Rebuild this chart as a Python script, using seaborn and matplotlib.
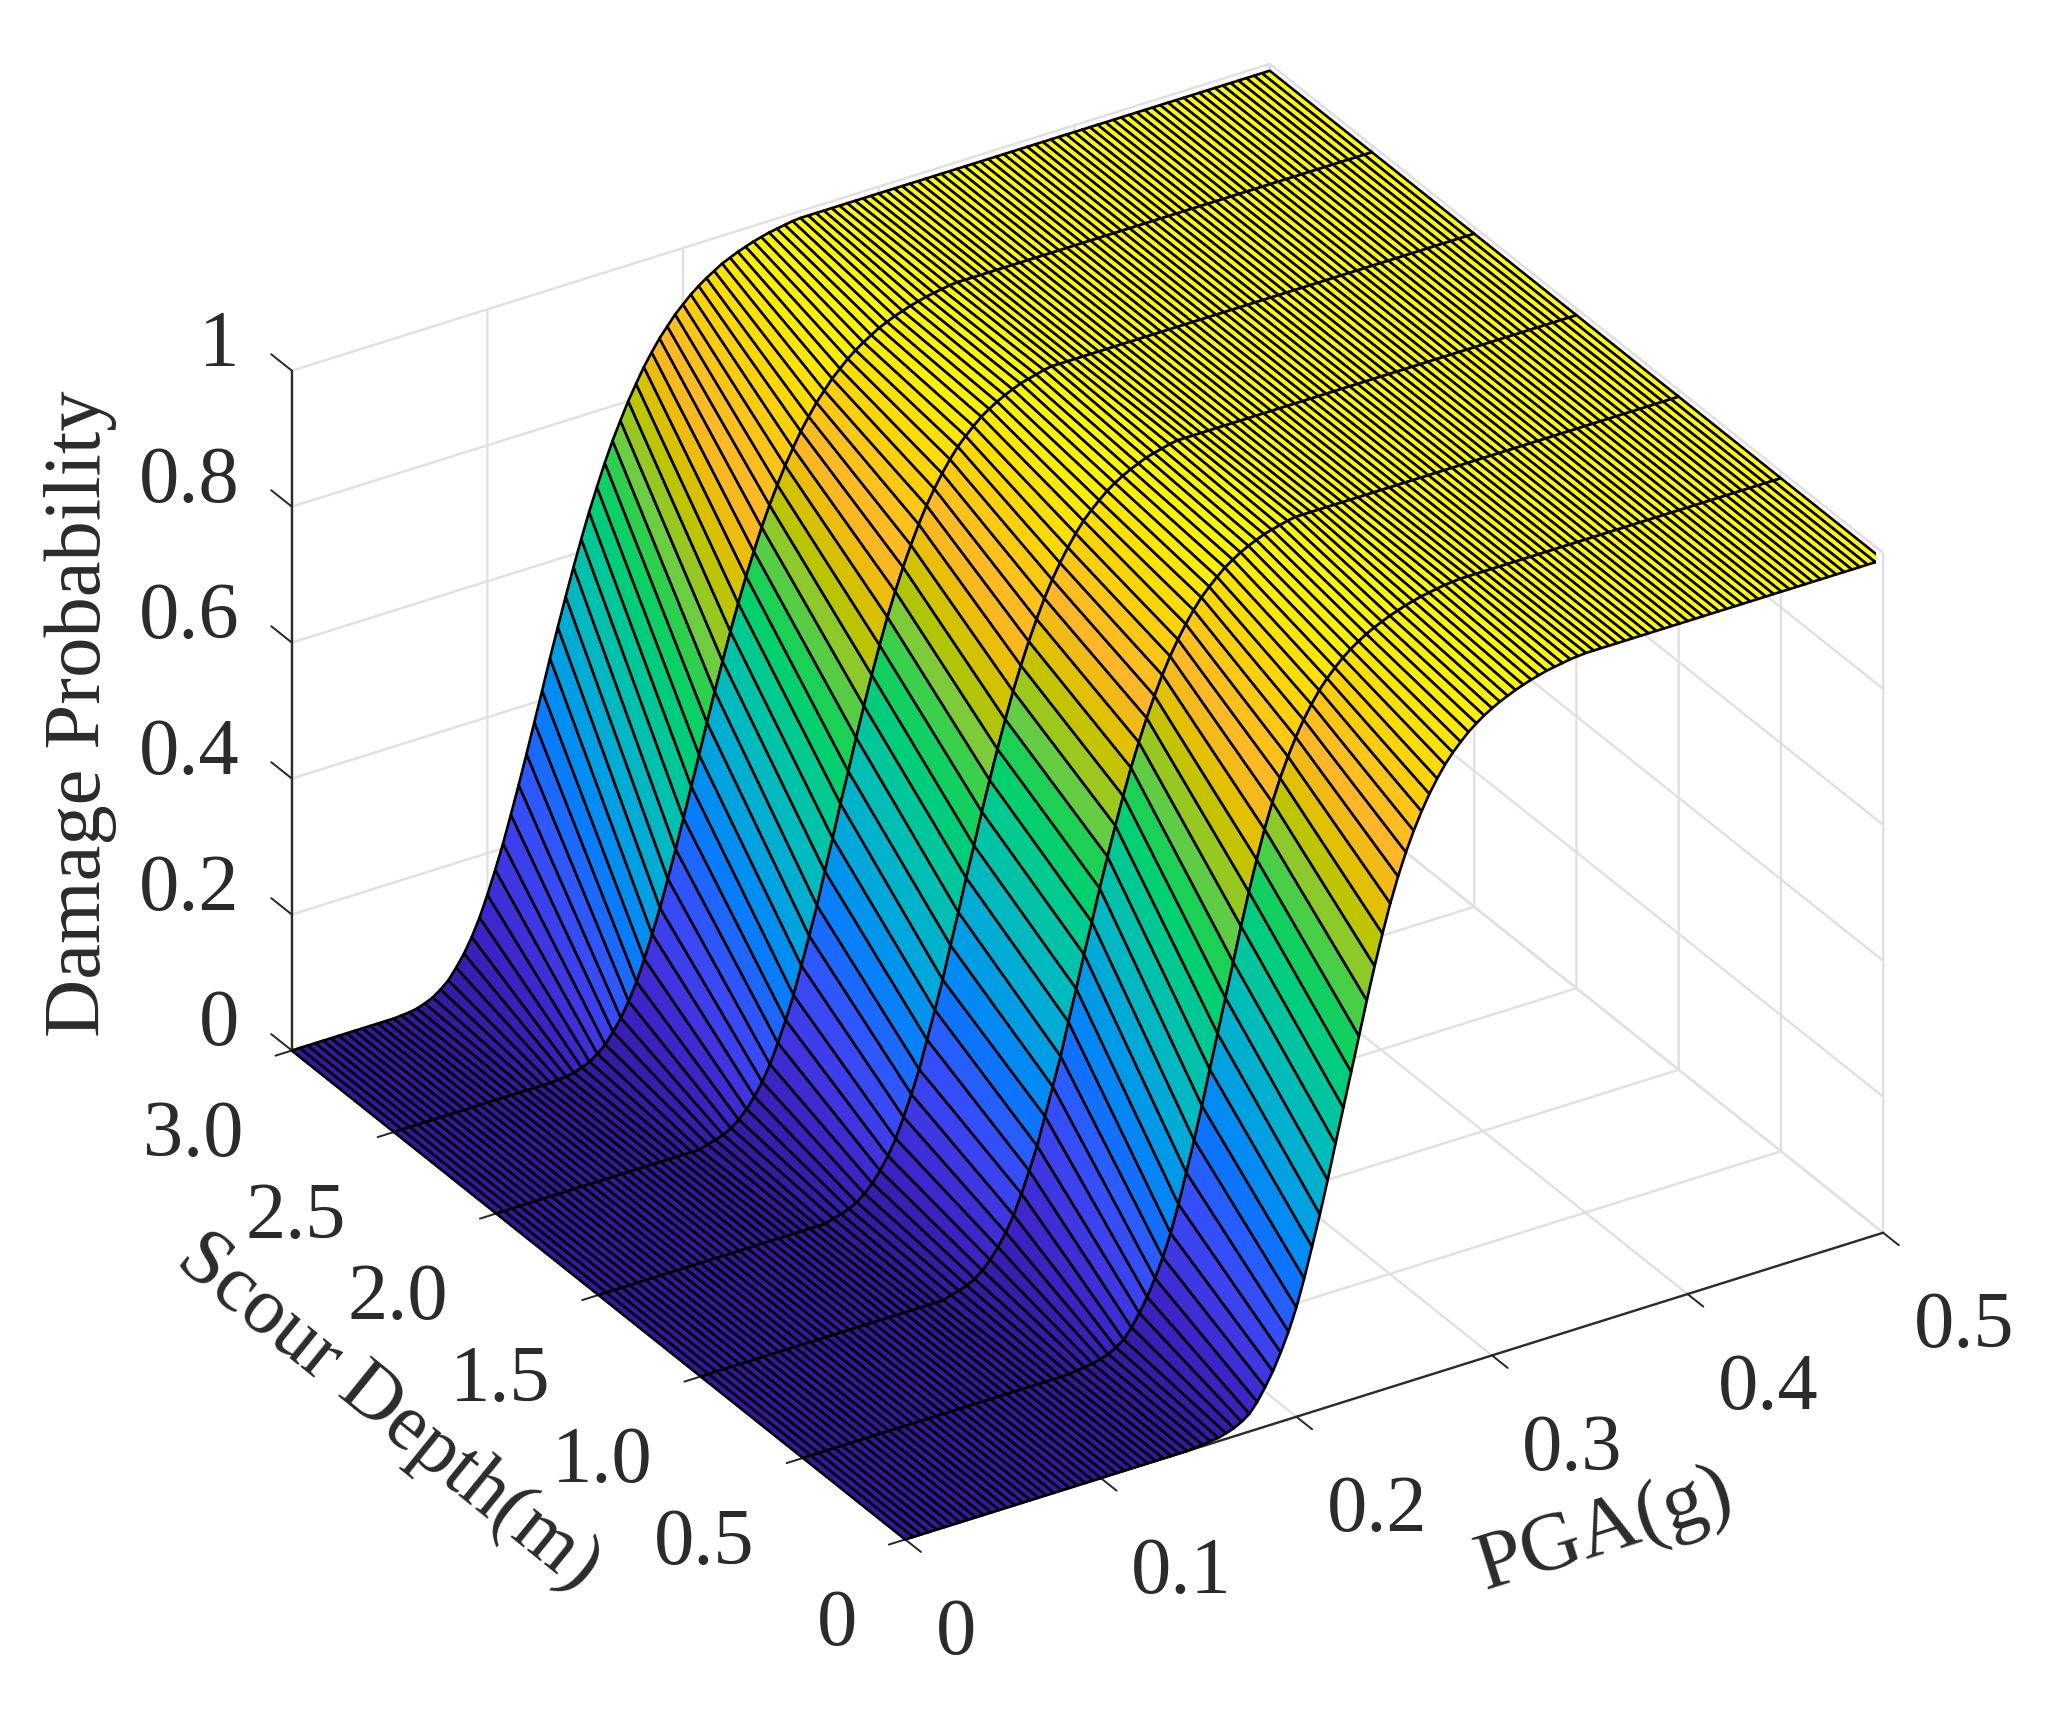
import numpy as np
import matplotlib
matplotlib.use("Agg")
import matplotlib.pyplot as plt
import seaborn as sns

scour_depths = [0, 0.5, 1.0, 1.5, 2.0, 2.5, 3.0]
pga_ticks = [0, 0.1, 0.2, 0.3, 0.4, 0.5]
pga_tick_labels = ["0", "0.1", "0.2", "0.3", "0.4", "0.5"]
scour_ticks = [0, 0.5, 1.0, 1.5, 2.0, 2.5, 3.0]
scour_tick_labels = ["0", "0.5", "1.0", "1.5", "2.0", "2.5", "3.0"]
prob_ticks = [0, 0.2, 0.4, 0.6, 0.8, 1.0]
prob_tick_labels = ["0", "0.2", "0.4", "0.6", "0.8", "1"]

# PGA grid has 126 stations, 0.004 g apart
n_pga = 126
plateau = 0.99

# rising part of the curves, one value per PGA station
ramp_front = [.001, .002, .0035, .005, .008, .012, .018, .026, .040, .058, .078, .102, .129, .161, .200, .243, .287,
              .334, .384, .433, .482, .531, .580, .627, .671, .712, .748, .780, .808, .833, .855, .874, .891, .905,
              .917, .928, .937, .945, .952, .958, .963, .968, .972, .976, .979, .982, .984, .986, .988, .989]
ramp_mid = [.004, .007, .011, .017, .026, .038, .053, .071, .093, .121, .151, .184, .224, .264, .305, .352, .397,
            .444, .488, .534, .577, .619, .659, .697, .731, .763, .792, .819, .843, .864, .883, .900, .915, .927,
            .938, .948, .956, .963, .969, .974, .979, .982, .985, .988]
ramp_rear = [.001, .002, .004, .008, .013, .021, .031, .046, .063, .084, .109, .139, .172, .207, .246, .286, .328,
             .371, .414, .458, .500, .541, .581, .619, .655, .688, .720, .749, .775, .800, .822, .843, .861, .878,
             .892, .906, .917, .928, .937, .945, .952, .959, .964, .969, .973, .977, .980, .983, .985, .987, .989]

# which ramp each scour depth uses and the PGA station it starts at
scour_ramps = [ramp_front, ramp_front, ramp_mid, ramp_mid, ramp_mid, ramp_rear, ramp_rear]
ramp_starts = [37, 34, 32, 30, 27, 21, 14]

surface_colors = ["#35189f", "#3d22c4", "#3f35e0", "#3a48f5", "#2a5cff", "#0a78ff", "#0090f0", "#00a6dc", "#00b4c8",
                  "#00c0b0", "#00c894", "#00d070", "#20d050", "#78cc40", "#b8c400", "#e4c000", "#ffb52a", "#ffc418",
                  "#ffd800", "#fff000", "#ffff00"]


def build_row(ramp, start):
    return [0.0] * start + ramp + [plateau] * (n_pga - start - len(ramp))


sns.set_style("white")
plt.rcParams['font.family'] = ['Liberation Serif', 'DejaVu Serif']
text_color = "#2b2b2b"

pga = np.linspace(0, 0.5, n_pga)
prob = np.array([build_row(r, s) for r, s in zip(scour_ramps, ramp_starts)])
X, Y = np.meshgrid(pga, scour_depths)

fig = plt.figure(figsize=(20.55, 17.24), dpi=100)
ax = fig.add_axes([255.6 / 2055, 89.4 / 1724, 1620 / 2055, 1620 / 1724], projection='3d', proj_type='ortho')
ax.view_init(elev=30, azim=237.9)
ax.set_box_aspect((1, 1, 0.68), zoom=1.0855)

cmap = sns.blend_palette(surface_colors, as_cmap=True)
ax.plot_surface(X, Y, prob, rstride=1, cstride=1, cmap=cmap, vmin=0, vmax=1, shade=False,
                edgecolor='black', linewidth=1.9, antialiased=True)

ax.set_xlim(0, 0.5)
ax.set_ylim(0, 3)
ax.set_zlim(0, 1)
ax.set_xticks(pga_ticks, pga_tick_labels)
ax.set_yticks(scour_ticks, scour_tick_labels)
ax.set_zticks(prob_ticks, prob_tick_labels)
ax.tick_params(axis='x', labelsize=58, labelcolor=text_color, pad=22)
ax.tick_params(axis='y', labelsize=58, labelcolor=text_color, pad=22)
ax.tick_params(axis='z', labelsize=58, labelcolor=text_color, pad=12)
for lab in ax.get_xticklabels():
    lab.set_ha('left')
for lab in ax.get_yticklabels():
    lab.set_ha('right')
for lab in ax.get_zticklabels():
    lab.set_ha('right')
    lab.set_va('baseline')

tick_lengths = {'x': -0.32, 'y': -0.21, 'z': 0.42}
for name, axis in zip('xyz', [ax.xaxis, ax.yaxis, ax.zaxis]):
    axis.set_pane_color((1, 1, 1, 0))
    axis.pane.set_edgecolor((1, 1, 1, 0))
    axis.line.set_color(text_color)
    axis.line.set_linewidth(1.7)
    axis._axinfo['grid'].update(color='#e0e0e0', linewidth=1.7)
    axis._axinfo['tick'].update(inward_factor=0, outward_factor=tick_lengths[name], color=text_color,
                                linewidth={True: 1.4, False: 1.0})
# z ticks run along the scour direction in the original
ax.zaxis._get_tickdir = lambda pos: 1

fig.text(1605 / 2055, 1 - 1531 / 1724, "PGA(g)", fontsize=60, color=text_color, rotation=17.5,
         ha='center', va='center', rotation_mode='anchor')
fig.text(387 / 2055, 1 - 1413 / 1724, "Scour Depth(m)", fontsize=58, color=text_color, rotation=-39,
         ha='center', va='center', rotation_mode='anchor')
fig.text(81 / 2055, 1 - 714 / 1724, "Damage Probability", fontsize=58, color=text_color, rotation=90,
         ha='center', va='center', rotation_mode='anchor')

fig.savefig("out.png", dpi=100)
